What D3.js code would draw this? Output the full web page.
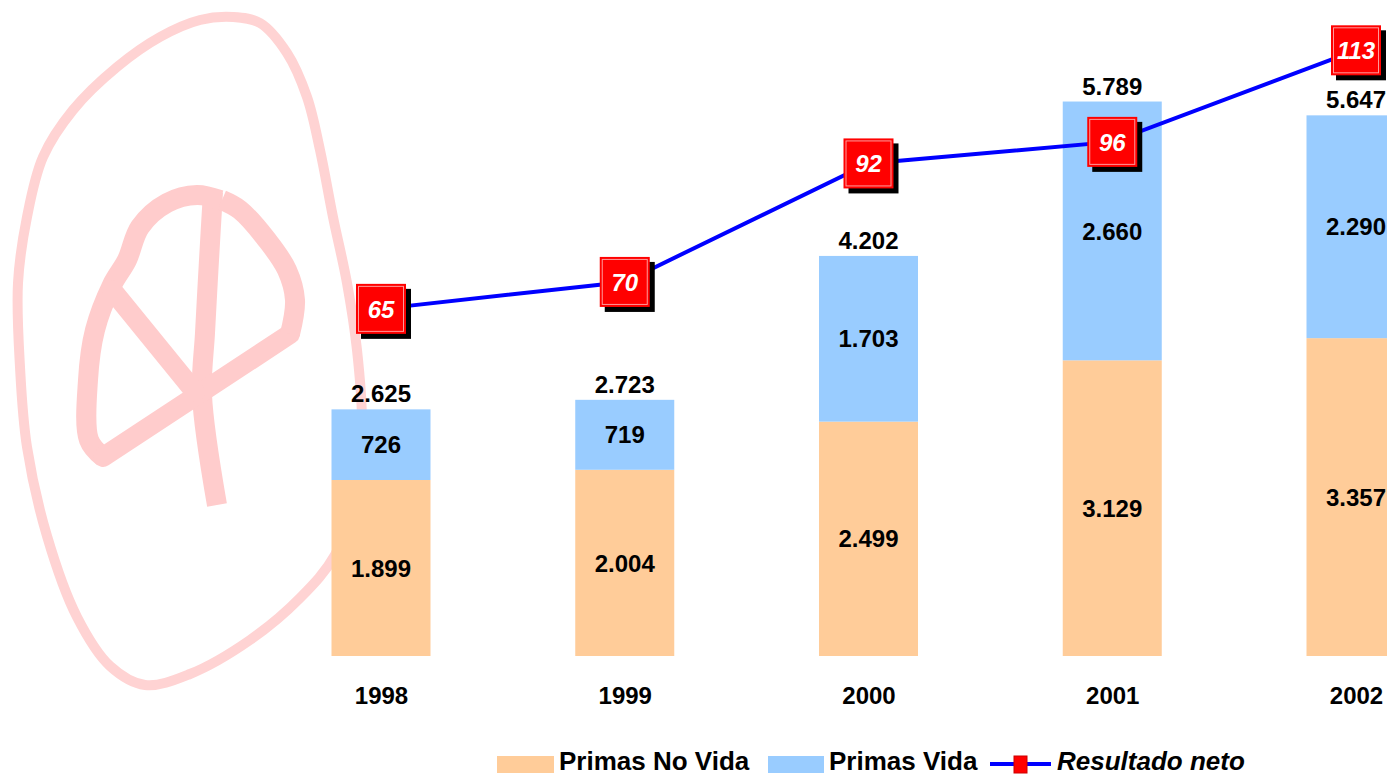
<!DOCTYPE html>
<html><head><meta charset="utf-8">
<script src="https://cdn.jsdelivr.net/npm/d3@7/dist/d3.min.js"></script>
<style>
html,body{margin:0;padding:0;background:#fff;overflow:hidden}
text{font-family:"Liberation Sans",Arial,sans-serif;font-weight:bold}
</style></head>
<body>
<svg id="chart" width="1387" height="776"></svg>
<script>
const years = ["1998","1999","2000","2001","2002"];
const primasNoVida = [1899, 2004, 2499, 3129, 3357];
const primasVida = [726, 719, 1703, 2660, 2290];
const resultadoNeto = [65, 70, 92, 96, 113];
const legendLabels = ["Primas No Vida", "Primas Vida", "Resultado neto"];

const colNoVida = "#ffcc99", colVida = "#99ccff", colLine = "#0000ff", colMarker = "#ff0000";

const svg = d3.select("#chart");
const loc = d3.formatLocale({decimal: ",", thousands: ".", grouping: [3], currency: ["", ""]});
const fmt = loc.format(",");

// watermark logo (decoration)
const wm = svg.append("g").attr("fill", "none").attr("stroke-linejoin", "round");
const outer = [[233,17],[200,20],[160,37],[117,67],[73,110],[43,157],[27,217],[18,283],[20,367],[27,447],[47,536],[77,617],[110,666],[145,685],[190,674],[250,640],[300,598],[335,555],[357,490],[362,424],[357,350],[347,283],[333,217],[320,150],[307,97],[287,53],[260,23]];
wm.append("path").attr("d", d3.line().curve(d3.curveCatmullRomClosed)(outer))
  .attr("stroke", "#ffd3d3").attr("stroke-width", 10);
const lc = d3.line().curve(d3.curveCatmullRom);
const pink = "#ffcccc";
wm.append("path").attr("d", lc([[213,192],[209,260],[205,333],[202,395],[217,505]]))
  .attr("stroke", pink).attr("stroke-width", 20);
wm.append("path").attr("d", lc([[220,200],[197,195],[167,203],[140,227],[127,260],[112,285],[95,330],[88,380],[89,440],[103,457]]))
  .attr("stroke", pink).attr("stroke-width", 20);
wm.append("path").attr("d", d3.line()([[103,457],[290,334]]))
  .attr("stroke", pink).attr("stroke-width", 20).attr("stroke-linecap", "round");
wm.append("path").attr("d", lc([[290,334],[295,300],[287,270],[267,240],[240,210],[222,200]]))
  .attr("stroke", pink).attr("stroke-width", 20);
wm.append("path").attr("d", d3.line()([[112,290],[195,392]]))
  .attr("stroke", pink).attr("stroke-width", 20).attr("stroke-linecap", "round");

// scales
const x = d3.scalePoint().domain(years).range([381, 1356]);
const yBar = d3.scaleLinear().domain([90, 6000]).range([656, 81]);
const yLine = d3.scaleLinear().domain([0, 120]).range([659, 12.6]);
const barW = 99;

const rows = years.map((yr, i) => ({year: yr, noVida: primasNoVida[i], vida: primasVida[i]}));
const stack = d3.stack().keys(["noVida", "vida"])(rows);
const colors = {noVida: colNoVida, vida: colVida};

stack.forEach(layer => {
  const g = svg.append("g");
  g.selectAll("rect").data(layer).join("rect")
    .attr("x", d => x(d.data.year) - barW / 2)
    .attr("width", barW)
    .attr("y", d => yBar(d[1]))
    .attr("height", d => yBar(Math.max(d[0], 90)) - yBar(d[1]))
    .attr("fill", colors[layer.key]);
  g.selectAll("text").data(layer).join("text")
    .attr("x", d => x(d.data.year))
    .attr("y", d => (yBar(Math.max(d[0], 90)) + yBar(d[1])) / 2)
    .attr("dy", "0.36em")
    .attr("text-anchor", "middle")
    .attr("font-size", 24)
    .attr("fill", "#000")
    .text(d => fmt(d.data[layer.key]));
});

// totals
svg.append("g").selectAll("text").data(rows).join("text")
  .attr("x", d => x(d.year))
  .attr("y", d => yBar(d.noVida + d.vida) - 7)
  .attr("text-anchor", "middle").attr("font-size", 24)
  .text(d => fmt(d.noVida + d.vida));

// x axis labels
const xAxis = svg.append("g").attr("transform", "translate(0,704)")
  .call(d3.axisBottom(x).tickSize(0).tickPadding(0));
xAxis.select(".domain").remove();
xAxis.selectAll("text").attr("font-size", 24).attr("fill", "#000")
  .attr("dy", 0).attr("font-family", "'Liberation Sans',Arial,sans-serif").attr("font-weight", "bold");

// line
const lineData = years.map((yr, i) => ({year: yr, v: resultadoNeto[i]}));
svg.append("path").datum(lineData)
  .attr("d", d3.line().x(d => x(d.year)).y(d => yLine(d.v)))
  .attr("fill", "none").attr("stroke", colLine).attr("stroke-width", 4);

const ms = 50;
const mk = svg.append("g").selectAll("g").data(lineData).join("g")
  .attr("transform", d => `translate(${x(d.year)},${yLine(d.v)})`);
mk.append("rect").attr("x", -ms / 2 + 5).attr("y", -ms / 2 + 5).attr("width", ms).attr("height", ms).attr("fill", "#000");
mk.append("rect").attr("x", -ms / 2).attr("y", -ms / 2).attr("width", ms).attr("height", ms).attr("fill", colMarker);
mk.append("rect").attr("x", -ms / 2 + 2.5).attr("y", -ms / 2 + 2.5).attr("width", ms - 5).attr("height", ms - 5)
  .attr("fill", "none").attr("stroke", "#ff9a9a").attr("stroke-width", 1);
mk.append("text").attr("text-anchor", "middle").attr("dy", "0.36em")
  .attr("font-size", 24).attr("font-style", "italic").attr("fill", "#fff")
  .text(d => d.v);

// legend
const lg = svg.append("g");
lg.append("rect").attr("x", 497).attr("y", 756).attr("width", 57).attr("height", 17).attr("fill", colNoVida);
lg.append("text").attr("x", 559).attr("y", 770).attr("font-size", 26).text(legendLabels[0]);
lg.append("rect").attr("x", 768).attr("y", 756).attr("width", 56).attr("height", 17).attr("fill", colVida);
lg.append("text").attr("x", 829).attr("y", 770).attr("font-size", 26).text(legendLabels[1]);
lg.append("line").attr("x1", 990).attr("x2", 1051).attr("y1", 764).attr("y2", 764)
  .attr("stroke", colLine).attr("stroke-width", 4);
lg.append("rect").attr("x", 1014).attr("y", 756).attr("width", 13).attr("height", 17)
  .attr("fill", colMarker).attr("stroke", "#cc0000").attr("stroke-width", 1);
lg.append("text").attr("x", 1057).attr("y", 770).attr("font-size", 26).attr("font-style", "italic").text(legendLabels[2]);
</script>
</body></html>
